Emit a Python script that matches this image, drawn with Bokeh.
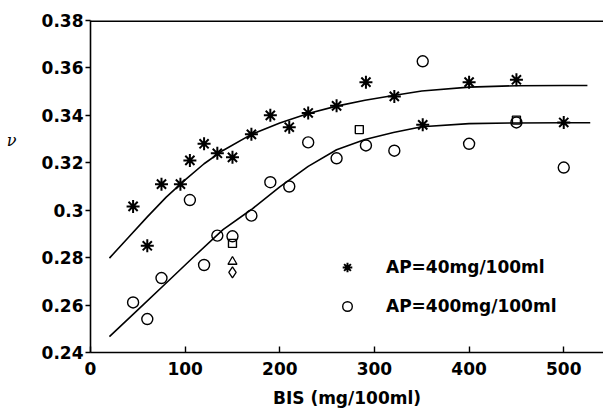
from bokeh.plotting import figure
from bokeh.models import (Range1d, FixedTicker, CustomJSTickFormatter,
                          Legend, LegendItem, Span)
from bokeh.embed import file_html
from bokeh.resources import INLINE

# AP = 40 mg/100ml (stars)
x_ap40 = [45, 60, 75, 95, 105, 120, 134, 150, 170, 190, 210, 230, 260, 291, 321, 351, 400, 450, 500]
y_ap40 = [0.3016, 0.285, 0.311, 0.311, 0.321, 0.328, 0.324, 0.3223, 0.332, 0.340, 0.335,
          0.341, 0.344, 0.354, 0.348, 0.336, 0.354, 0.355, 0.337]

# AP = 400 mg/100ml (circles)
x_ap400 = [45, 60, 75, 105, 120, 134, 150, 170, 190, 210, 230, 260, 291, 321, 351, 400, 450, 500]
y_ap400 = [0.2611, 0.2541, 0.2714, 0.3043, 0.2769, 0.2893, 0.289, 0.2977, 0.3118, 0.310,
           0.3286, 0.3219, 0.3273, 0.3251, 0.3628, 0.328, 0.337, 0.318]

# extra symbols
x_sq = [150, 284, 450]
y_sq = [0.286, 0.334, 0.338]
x_tri = [150]
y_tri = [0.2783]
x_dia = [150]
y_dia = [0.2738]

# fitted curves
x_fit_up = [20, 40, 60, 80, 100, 120, 140, 170, 200, 230, 260, 290, 320, 350, 400, 450, 500, 525]
y_fit_up = [0.2798, 0.2885, 0.2972, 0.3055, 0.3128, 0.3196, 0.3252, 0.332, 0.3368, 0.3408,
            0.3439, 0.3464, 0.3484, 0.3503, 0.3519, 0.3525, 0.3526, 0.3526]
x_fit_lo = [20, 50, 80, 110, 140, 170, 200, 230, 260, 290, 320, 350, 400, 450, 500, 528]
y_fit_lo = [0.2467, 0.2580, 0.2693, 0.2807, 0.2918, 0.3003, 0.3098, 0.3185, 0.3255, 0.3298,
            0.3328, 0.3352, 0.3365, 0.3368, 0.3369, 0.3369]

x_ticks = [0, 100, 200, 300, 400, 500]
y_ticks = [0.24, 0.26, 0.28, 0.30, 0.32, 0.34, 0.36, 0.38]
legend_labels = ["AP=40mg/100ml", "AP=400mg/100ml"]

FONT = "DejaVu Sans"

p = figure(width=603, height=410, output_backend="svg", toolbar_location=None,
           x_range=Range1d(0, 542), y_range=Range1d(0.24, 0.38),
           min_border_left=90, min_border_right=0, min_border_top=20, min_border_bottom=58)
p.grid.visible = False
p.outline_line_color = None
p.background_fill_color = "white"

# top frame line
p.add_layout(Span(location=0.38, dimension="width", line_color="black", line_width=3))

# curves
p.line(x_fit_up, y_fit_up, line_color="black", line_width=1.6)
p.line(x_fit_lo, y_fit_lo, line_color="black", line_width=1.6)

r_star = p.scatter(x_ap40, y_ap40, marker="asterisk", size=13, line_color="black", line_width=2)
r_circ = p.scatter(x_ap400, y_ap400, marker="circle", size=11, line_color="black",
                   fill_color="white", fill_alpha=0, line_width=1.4)
p.scatter(x_sq, y_sq, marker="square", size=8, line_color="black", fill_alpha=0, line_width=1.4)
p.scatter(x_tri, y_tri, marker="triangle", size=9, line_color="black", fill_alpha=0, line_width=1.3)
p.scatter(x_dia, y_dia, marker="diamond", size=11, line_color="black", fill_alpha=0, line_width=1.3)

# axes
xa = p.xaxis[0]
xa.ticker = FixedTicker(ticks=x_ticks)
xa.major_tick_in = 6
xa.major_tick_out = 0
xa.minor_tick_line_color = None
xa.axis_line_width = 1.6
xa.major_tick_line_width = 1.4
xa.major_label_text_font = FONT
xa.major_label_text_font_style = "bold"
xa.major_label_text_font_size = "17px"
xa.major_label_text_color = "black"
xa.major_label_standoff = 9
xa.axis_label = "BIS (mg/100ml)"
xa.axis_label_text_font = FONT
xa.axis_label_text_font_style = "bold"
xa.axis_label_text_font_size = "17px"
xa.axis_label_text_color = "black"
xa.axis_label_standoff = 10

ya = p.yaxis[0]
ya.ticker = FixedTicker(ticks=y_ticks)
ya.formatter = CustomJSTickFormatter(code="return tick.toFixed(2).replace(/0+$/, '');")
ya.major_tick_in = 0
ya.major_tick_out = 5
ya.minor_tick_line_color = None
ya.axis_line_width = 1.6
ya.major_tick_line_width = 1.4
ya.major_label_text_font = FONT
ya.major_label_text_font_style = "bold"
ya.major_label_text_font_size = "17px"
ya.major_label_text_color = "black"
ya.major_label_standoff = 2
# nu label: horizontal, raised above the centre by trailing blank lines
ya.axis_label = "ν\n \n \n \n "
ya.axis_label_orientation = "horizontal"
ya.axis_label_text_font = "DejaVu Serif"
ya.axis_label_text_font_style = "italic"
ya.axis_label_text_font_size = "16px"
ya.axis_label_text_color = "black"
ya.axis_label_standoff = 22

legend = Legend(items=[LegendItem(label=legend_labels[0], renderers=[r_star]),
                       LegendItem(label=legend_labels[1], renderers=[r_circ])],
                location=(245, 34), orientation="vertical",
                label_text_font=FONT, label_text_font_style="bold", label_text_font_size="17px",
                label_text_color="black",
                glyph_width=24, glyph_height=24, label_standoff=27, spacing=15,
                padding=0, margin=0, border_line_color=None, background_fill_alpha=0)
p.add_layout(legend)

open("out.html", "w").write(file_html(p, INLINE))
